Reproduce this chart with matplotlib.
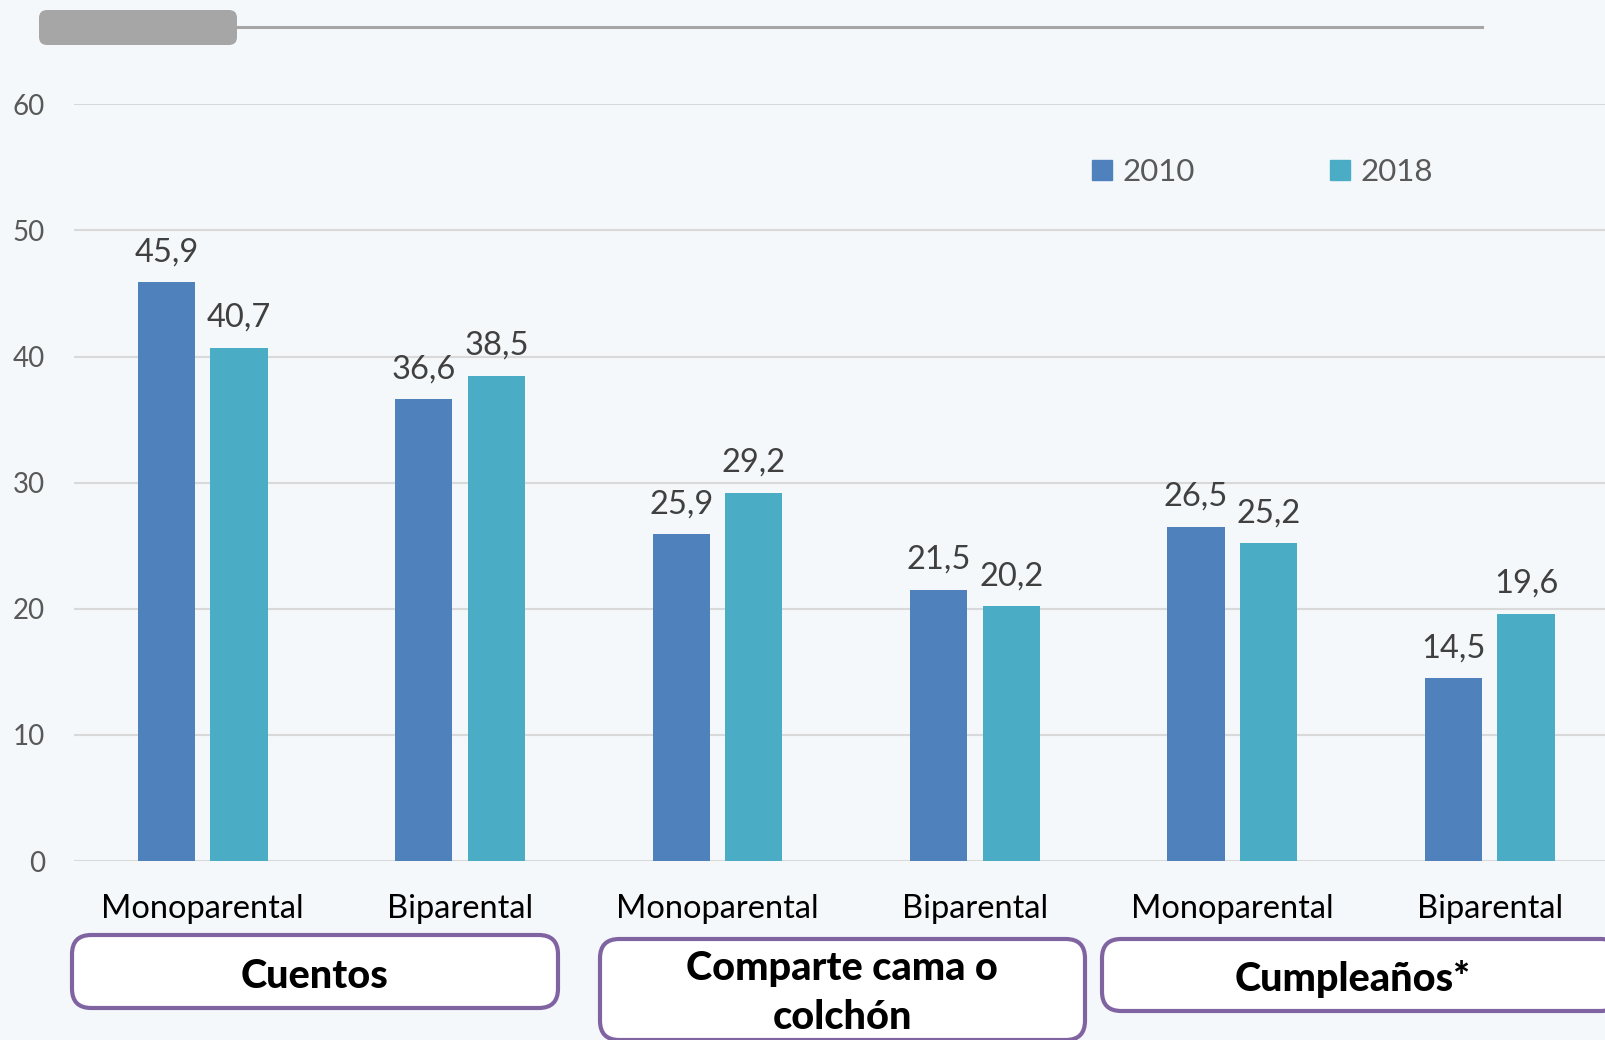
import matplotlib
matplotlib.use("Agg")
import matplotlib.pyplot as plt
from matplotlib.patches import FancyBboxPatch, Patch
import numpy as np

categories = ["Monoparental", "Biparental", "Monoparental", "Biparental", "Monoparental", "Biparental"]
groups = ["Cuentos", "Comparte cama o\ncolchón", "Cumpleaños*"]
series_names = ["2010", "2018"]
values_2010 = [45.9, 36.6, 25.9, 21.5, 26.5, 14.5]
values_2018 = [40.7, 38.5, 29.2, 20.2, 25.2, 19.6]
yticks = [0, 10, 20, 30, 40, 50, 60]

FONT = "Lato"
BG = "#F5F8FA"
C2010 = "#4F81BD"
C2018 = "#4BACC6"
PURPLE = "#8064A2"

W, H = 1605, 1040
fig = plt.figure(figsize=(W / 100, H / 100), dpi=100, facecolor=BG)

ax_left, ax_right = 74, 1605
y0_px, y60_px = 861, 104.4
ax = fig.add_axes([ax_left / W, (H - y0_px) / H, (ax_right - ax_left) / W, (y0_px - y60_px) / H])
ax.set_facecolor(BG)

cat_w = 257.4
x = np.arange(len(categories))
ax.set_xlim(-0.5, -0.5 + (ax_right - ax_left) / cat_w)
ax.set_ylim(0, 60)

bw = 0.222
off = 0.141
b1 = ax.bar(x - off, values_2010, bw, color=C2010, zorder=3)
b2 = ax.bar(x + off, values_2018, bw, color=C2018, zorder=3)

for bars, vals in ((b1, values_2010), (b2, values_2018)):
    for r, v in zip(bars, vals):
        ax.annotate(f"{v:.1f}".replace(".", ","), (r.get_x() + r.get_width() / 2, v),
                    xytext=(0, 10.8), textcoords="offset points", ha="center", va="bottom",
                    fontsize=23.5, color="#404040", family=FONT)

ax.set_yticks(yticks)
ax.set_yticklabels([str(t) for t in yticks], fontsize=20, color="#595959", family=FONT)
ax.tick_params(axis="y", length=0, pad=21)
ax.set_xticks([])
ax.grid(axis="y", color="#D9D9D9", linewidth=1.5, zorder=0)
for s in ax.spines.values():
    s.set_visible(False)
ax.axhline(0, color="#D9D9D9", linewidth=2, zorder=2)

# category labels
for xi, c in zip(x, categories):
    ax.text(xi, (y0_px - 909) / (y0_px - y60_px), c, transform=ax.get_xaxis_transform(),
            ha="center", va="center", fontsize=23.5, color="black", family=FONT)

# legend
handles = [Patch(color=C2010), Patch(color=C2018)]
fs = 22.5
fs_px = fs / 0.72
fig.legend(handles, series_names, loc="center left",
           bbox_to_anchor=(1092 / W, 1 - 172 / H), bbox_transform=fig.transFigure,
           ncol=2, frameon=False, borderpad=0, borderaxespad=0,
           handlelength=20 / fs_px, handleheight=20 / fs_px, handletextpad=10 / fs_px,
           columnspacing=136 / fs_px,
           prop={"family": FONT, "size": fs}, labelcolor="#595959")

# group boxes (figure pixel coords, y from top)
boxes = [(72, 935, 558, 1008), (600, 939, 1085, 1040), (1102, 939, 1620, 1011)]
centers = [(314, 976), (842, 993), (1353, 979)]
for (x0, yt, x1, yb), (cx, cy), g in zip(boxes, centers, groups):
    p = FancyBboxPatch((x0 / W, 1 - yb / H), (x1 - x0) / W, (yb - yt) / H,
                       boxstyle="round,pad=0,rounding_size=0.012",
                       transform=fig.transFigure, facecolor="white", edgecolor=PURPLE,
                       linewidth=3, mutation_aspect=W / H, clip_on=False)
    fig.add_artist(p)
    fig.text(cx / W, 1 - cy / H, g, ha="center", va="center", fontsize=28.5,
             fontweight="black", color="black", family=FONT, linespacing=1.42)

# top decoration: grey tab and line
tab = FancyBboxPatch((39 / W, 1 - 45 / H), (237 - 39) / W, 35 / H,
                     boxstyle="round,pad=0,rounding_size=0.005", transform=fig.transFigure,
                     facecolor="#A6A6A6", edgecolor="none", mutation_aspect=W / H)
fig.add_artist(tab)
fig.add_artist(plt.Line2D([237 / W, 1482 / W], [1 - 26.5 / H, 1 - 26.5 / H],
                          transform=fig.transFigure, color="#A6A6A6", linewidth=2.2))

fig.savefig("out.png", dpi=100, facecolor=BG)
